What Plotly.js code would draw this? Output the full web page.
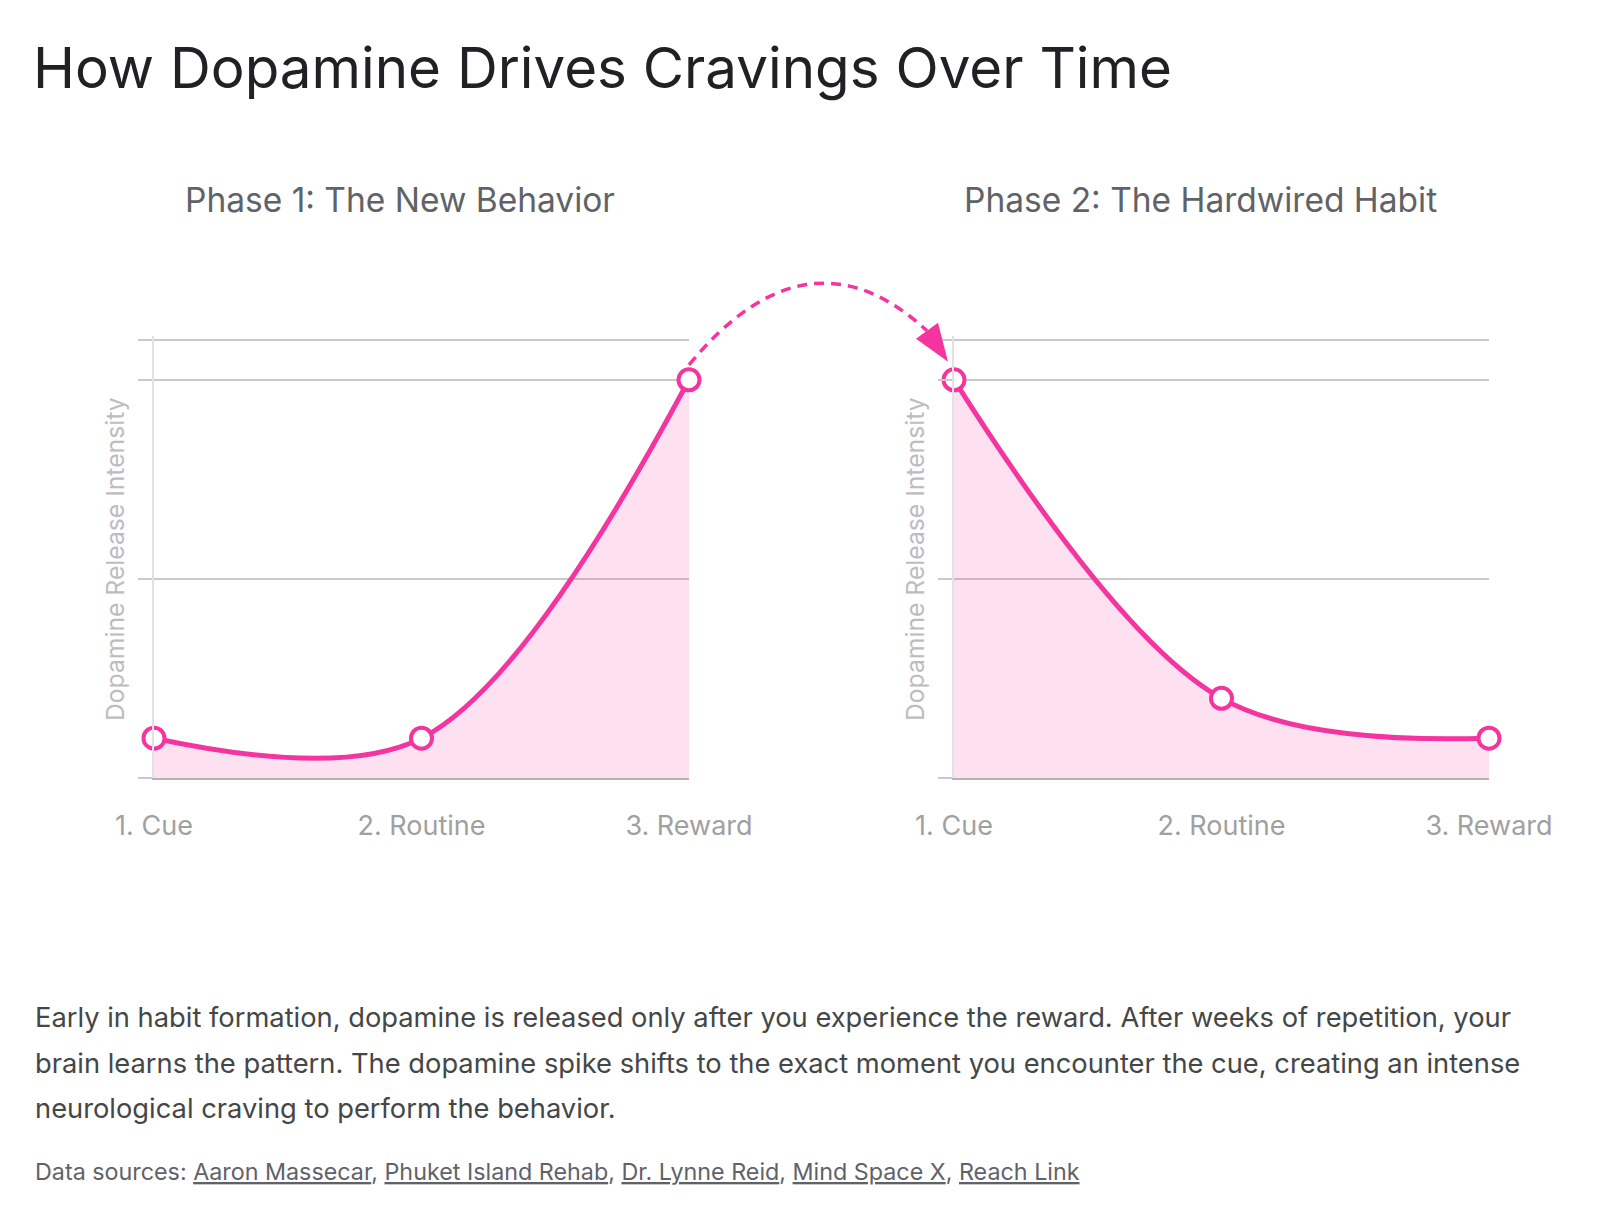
<!DOCTYPE html>
<html>
<head>
<meta charset="utf-8">
<script src="https://cdn.plot.ly/plotly-3.0.1.min.js"></script>
<style>
  html, body { margin: 0; padding: 0; background: #ffffff; }
  #chart { width: 1600px; height: 1220px; }
</style>
</head>
<body>
<div id="chart"></div>
<script>
// ---------------- data ----------------
const stages = ["1. Cue", "2. Routine", "3. Reward"];
const phase1Values = [10, 10, 100];   // Phase 1: The New Behavior
const phase2Values = [100, 20, 10];   // Phase 2: The Hardwired Habit
const gridValues = [0, 50, 100, 110];

const chartTitle = "How Dopamine Drives Cravings Over Time";
const phase1Title = "Phase 1: The New Behavior";
const phase2Title = "Phase 2: The Hardwired Habit";
const yTitle = "Dopamine Release Intensity";
const paragraphLines = [
  "Early in habit formation, dopamine is released only after you experience the reward. After weeks of repetition, your",
  "brain learns the pattern. The dopamine spike shifts to the exact moment you encounter the cue, creating an intense",
  "neurological craving to perform the behavior."
];
const sourcesLabel = "Data sources: ";
const sources = ["Aaron Massecar", "Phuket Island Rehab", "Dr. Lynne Reid", "Mind Space X", "Reach Link"];

// ---------------- layout geometry ----------------
const W = 1600, H = 1220;
const FONT = "Inter, Roboto, sans-serif";
const PINK = "#F5359F";
const FILL = "rgba(245,53,160,0.15)";
const GRID = "#c9c9c9";
const xDomL = [154 / W, 689 / W];
const xDomR = [954 / W, 1489 / W];
const yDom = [1 - 778 / H, 1 - 336 / H];
const xRange = [0, stages.length - 1];
const yRange = [0, 111];

function pxX(dom, i) {
  return (dom[0] + (i - xRange[0]) / (xRange[1] - xRange[0]) * (dom[1] - dom[0])) * W;
}
function pxY(v) {
  return (1 - (yDom[0] + (v - yRange[0]) / (yRange[1] - yRange[0]) * (yDom[1] - yDom[0]))) * H;
}
function P(x, y) { return (x / W).toFixed(5) + "," + (1 - y / H).toFixed(5); }

const idx = stages.map((_, i) => i);

function seriesTrace(vals, xa, ya) {
  return {
    x: idx, y: vals, xaxis: xa, yaxis: ya,
    type: "scatter", mode: "lines+markers",
    line: { color: PINK, width: 5, shape: "spline", smoothing: 1 },
    fill: "tozeroy", fillcolor: FILL,
    marker: { size: 21, color: "#ffffff", line: { color: PINK, width: 4 } },
    cliponaxis: false, hoverinfo: "skip", showlegend: false
  };
}

const data = [
  seriesTrace(phase1Values, "x", "y"),
  seriesTrace(phase2Values, "x2", "y2")
];

function xAxis(dom, anchor) {
  return {
    domain: dom, anchor: anchor, range: xRange, fixedrange: true,
    tickmode: "array", tickvals: idx, ticktext: stages,
    ticks: "", showgrid: false, zeroline: false,
    showline: true, linecolor: "#b5b0b5", linewidth: 2,
    tickfont: { family: FONT, size: 27, color: "#a0a0a0" },
    ticklabelstandoff: 23
  };
}
function yAxis(anchor) {
  return {
    domain: yDom, anchor: anchor, range: yRange, fixedrange: true,
    tickmode: "array", tickvals: gridValues, showticklabels: false,
    ticks: "outside", ticklen: 14, tickcolor: GRID, tickwidth: 1.5,
    showgrid: true, gridcolor: GRID, gridwidth: 1.5, zeroline: false,
    showline: true, linecolor: "#e2e2e2", linewidth: 2
  };
}

// Arrow from Phase 1 reward peak to Phase 2 cue peak
const sx = pxX(xDomL, 2), sy = pxY(phase1Values[2]) - 15;
const ex0 = pxX(xDomR, 0), ey0 = pxY(phase2Values[0]);
const bx = ex0 - 27, by = ey0 - 49;
const cx = (sx + bx) / 2, cy = Math.min(sy, by) - 110;
const arcPath = "M" + P(sx, sy) + " Q" + P(cx, cy) + " " + P(bx, by);
const headPath = "M" + P(ex0 - 6, ey0 - 18) + " L" + P(ex0 - 38, ey0 - 41) + " L" + P(ex0 - 16, ey0 - 57) + " Z";

const shapes = [
  { type: "path", xref: "paper", yref: "paper", path: arcPath,
    line: { color: PINK, width: 3.5, dash: "10px,7px" } },
  { type: "path", xref: "paper", yref: "paper", path: headPath,
    fillcolor: PINK, line: { width: 0 } }
];

const annotations = [
  { text: phase1Title, x: 400 / W, y: 1 - 200 / H, xref: "paper", yref: "paper",
    xanchor: "center", yanchor: "middle", showarrow: false,
    font: { family: FONT, size: 33.5, color: "#5f6368" } },
  { text: phase2Title, x: 1200 / W, y: 1 - 200 / H, xref: "paper", yref: "paper",
    xanchor: "center", yanchor: "middle", showarrow: false,
    font: { family: FONT, size: 33.5, color: "#5f6368" } },
  { text: yTitle, x: 115 / W, y: 1 - 559 / H, xref: "paper", yref: "paper",
    xanchor: "center", yanchor: "middle", textangle: -90, showarrow: false,
    font: { family: FONT, size: 24.7, color: "#bdbdbd" } },
  { text: yTitle, x: 915 / W, y: 1 - 559 / H, xref: "paper", yref: "paper",
    xanchor: "center", yanchor: "middle", textangle: -90, showarrow: false,
    font: { family: FONT, size: 24.7, color: "#bdbdbd" } }
];
paragraphLines.forEach((line, i) => {
  annotations.push({
    text: line, x: 33 / W, y: 1 - (1018 + 45 * i) / H, xref: "paper", yref: "paper",
    xanchor: "left", yanchor: "middle", showarrow: false, align: "left",
    font: { family: FONT, size: 27.3, color: "#444746" }
  });
});
annotations.push({
  text: sourcesLabel + sources.map(s => '<span style="text-decoration:underline">' + s + '</span>').join(", "),
  x: 33 / W, y: 1 - 1171 / H, xref: "paper", yref: "paper",
  xanchor: "left", yanchor: "middle", showarrow: false, align: "left",
  font: { family: FONT, size: 23.3, color: "#5f6368" }
});

const layout = {
  width: W, height: H,
  margin: { l: 0, r: 0, t: 0, b: 0 },
  paper_bgcolor: "#ffffff", plot_bgcolor: "rgba(0,0,0,0)",
  font: { family: FONT },
  title: { text: chartTitle, x: 33 / W, xanchor: "left", xref: "paper",
           y: 1 - 68 / H, yanchor: "middle", yref: "paper",
           font: { family: FONT, size: 56.5, color: "#202124" } },
  xaxis: xAxis(xDomL, "y"),
  yaxis: yAxis("x"),
  xaxis2: xAxis(xDomR, "y2"),
  yaxis2: yAxis("x2"),
  shapes: shapes,
  annotations: annotations,
  showlegend: false
};

Plotly.newPlot("chart", data, layout, { staticPlot: true, displayModeBar: false });
</script>
</body>
</html>
